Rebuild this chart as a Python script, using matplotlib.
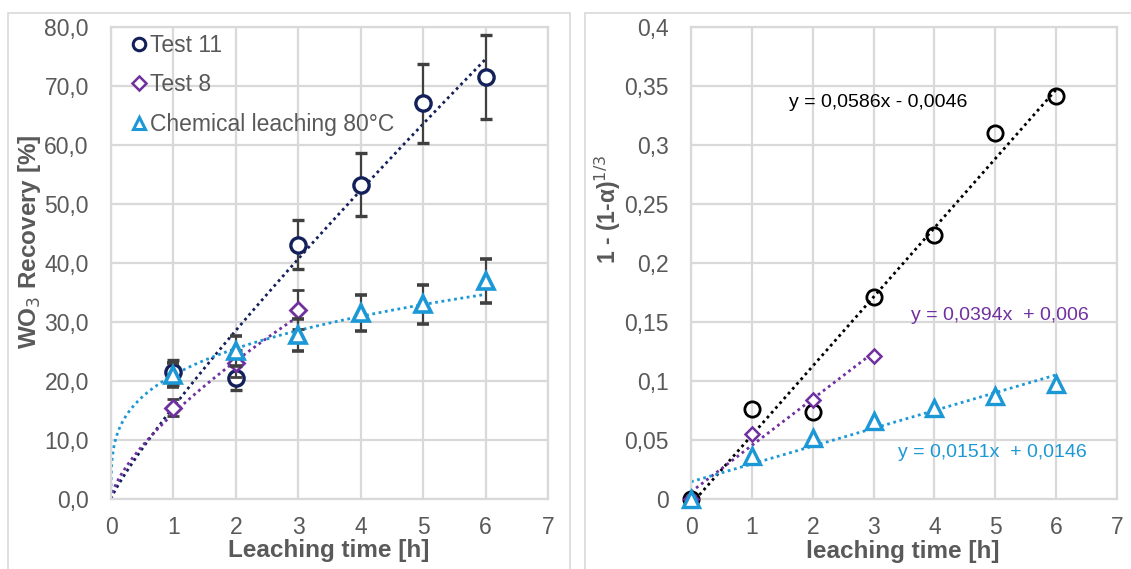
import numpy as np
import matplotlib
matplotlib.use("Agg")
import matplotlib.pyplot as plt
from matplotlib.lines import Line2D
from matplotlib.patches import Rectangle

plt.rcParams['font.family'] = ['Liberation Sans', 'DejaVu Sans']

# ---------------- data: left panel (WO3 recovery) ----------------
t11_x = [1, 2, 3, 4, 5, 6]
t11_y = [21.5, 20.5, 43.1, 53.3, 67.1, 71.5]
t11_err = [2.1, 2.0, 4.2, 5.3, 6.7, 7.1]

t8_x = [1, 2, 3]
t8_y = [15.5, 23.0, 32.1]
t8_err = [1.5, 2.3, 3.3]

chem_x = [1, 2, 3, 4, 5, 6]
chem_y = [21.0, 25.1, 27.8, 31.5, 33.0, 36.9]
chem_err = [2.1, 2.5, 2.7, 3.1, 3.3, 3.7]

# power trendlines y = a*x^b
t11_fit = (15.6, 0.873)
t8_fit = (14.5, 0.69)
chem_fit = (21.0, 0.28)

left_yticks = [0, 10, 20, 30, 40, 50, 60, 70, 80]
left_xticks = [0, 1, 2, 3, 4, 5, 6, 7]

# ---------------- data: right panel (shrinking core) ----------------
r_t11_x = [0, 1, 2, 3, 4, 5, 6]
r_t11_y = [0.0, 0.0763, 0.0735, 0.171, 0.224, 0.310, 0.3415]
r_t8_x = [0, 1, 2, 3]
r_t8_y = [0.0, 0.0548, 0.0837, 0.1215]
r_chem_x = [0, 1, 2, 3, 4, 5, 6]
r_chem_y = [0.0, 0.0363, 0.0514, 0.0662, 0.0772, 0.0877, 0.0975]

r_t11_fit = (0.0586, -0.0046)
r_t8_fit = (0.0394, 0.006)
r_chem_fit = (0.0151, 0.0146)

right_yticks = [0, 0.05, 0.1, 0.15, 0.2, 0.25, 0.3, 0.35, 0.4]
right_ytick_labels = ["0", "0,05", "0,1", "0,15", "0,2", "0,25", "0,3", "0,35", "0,4"]

# ---------------- styles ----------------
NAVY = "#14205a"
PURPLE = "#7030a0"
CYAN = "#1b98d5"
ERR = "#404040"
GRID = "#d9d9d9"
TXT = "#595959"

W, H = 1131, 569
fig = plt.figure(figsize=(W / 100, H / 100), dpi=100)

# panel frames
fig.patches.append(Rectangle((8 / W, -0.01), (570 - 8) / W, (H - 13) / H + 0.01,
                             transform=fig.transFigure, fill=False, ec=GRID, lw=1.2))
fig.patches.append(Rectangle((585 / W, -0.01), (W - 585 + 5) / W, (H - 13) / H + 0.01,
                             transform=fig.transFigure, fill=False, ec=GRID, lw=1.2))

axL = fig.add_axes([111 / W, (H - 499) / H, 437 / W, 472 / H])
axR = fig.add_axes([691 / W, (H - 499) / H, 426 / W, 472 / H])


def style(ax):
    ax.grid(True, color=GRID, lw=1.6)
    ax.set_axisbelow(True)
    for s in ax.spines.values():
        s.set_color(GRID)
        s.set_linewidth(1.6)
    ax.tick_params(length=0, labelsize=16.5, colors=TXT)


dots = (0, (1, 1.3))

# ---- left ----
style(axL)
axL.set_xlim(0, 7)
axL.set_ylim(0, 80)
axL.set_xticks(left_xticks)
axL.set_yticks(left_yticks)
axL.set_yticklabels([f"{v:.1f}".replace('.', ',') for v in left_yticks])
axL.tick_params(axis='y', pad=16)
axL.tick_params(axis='x', pad=12)

xx = np.linspace(0.0, 6, 400)
xs = np.concatenate([[0.0, 1e-4, 1e-3, 3e-3, 0.01, 0.02, 0.04], np.linspace(0.06, 6, 300)])
axL.plot(xx, t11_fit[0] * xx ** t11_fit[1], color=NAVY, lw=2.0, ls=dots, zorder=2)
x8 = np.linspace(0.0, 3, 300)
axL.plot(x8, t8_fit[0] * x8 ** t8_fit[1], color=PURPLE, lw=2.0, ls=dots, zorder=2)
axL.plot(xs, chem_fit[0] * xs ** chem_fit[1], color=CYAN, lw=2.0, ls=dots, zorder=2)

ekw = dict(ecolor=ERR, elinewidth=1.6, capsize=4.3, capthick=1.6, ls='none')
axL.errorbar(t11_x, t11_y, yerr=t11_err, marker='o', ms=11, mfc='white', mec=NAVY,
             mew=2.4, zorder=3, **ekw)
axL.errorbar(t8_x, t8_y, yerr=t8_err, marker='D', ms=8, mfc='white', mec=PURPLE,
             mew=2.0, zorder=4, **ekw)
axL.errorbar(chem_x, chem_y, yerr=chem_err, marker='^', ms=11, mfc='white', mec=CYAN,
             mew=2.6, zorder=5, **ekw)

handles = [
    Line2D([], [], marker='o', ls='none', ms=9, mfc='white', mec=NAVY, mew=2.2),
    Line2D([], [], marker='D', ls='none', ms=7, mfc='white', mec=PURPLE, mew=1.8),
    Line2D([], [], marker='^', ls='none', ms=9, mfc='white', mec=CYAN, mew=2.2),
]
leg = axL.legend(handles, ["Test 11", "Test 8", "Chemical leaching 80°C"],
                 loc='upper left', bbox_to_anchor=(0.025, 1.005), frameon=False,
                 fontsize=16.5, handlelength=0.7, handletextpad=0.12,
                 labelspacing=0.72, borderaxespad=0.0)
for t in leg.get_texts():
    t.set_color(TXT)

axL.set_xlabel("Leaching time [h]", fontsize=17.5, fontweight='bold', color=TXT)
axL.set_ylabel("WO$_3$ Recovery [%]", fontsize=17.5, fontweight='bold', color=TXT)
axL.xaxis.set_label_coords(0.497, -0.085)
axL.yaxis.set_label_coords(-0.155, 0.545)

# ---- right ----
style(axR)
axR.set_xlim(0, 7)
axR.set_ylim(0, 0.4)
axR.set_xticks(left_xticks)
axR.set_yticks(right_yticks)
axR.set_yticklabels(right_ytick_labels)
axR.tick_params(axis='y', pad=16)
axR.tick_params(axis='x', pad=12)

xr = np.linspace(0, 6, 100)
axR.plot(xr, r_t11_fit[0] * xr + r_t11_fit[1], color='black', lw=2.0, ls=dots, zorder=2)
xr3 = np.linspace(0, 3, 100)
axR.plot(xr3, r_t8_fit[0] * xr3 + r_t8_fit[1], color=PURPLE, lw=2.0, ls=dots, zorder=2)
axR.plot(xr, r_chem_fit[0] * xr + r_chem_fit[1], color=CYAN, lw=2.0, ls=dots, zorder=2)

axR.plot(r_t11_x, r_t11_y, ls='none', marker='o', ms=11, mfc='none', mec='black',
         mew=2.0, zorder=3, clip_on=False)
axR.plot(r_t8_x, r_t8_y, ls='none', marker='D', ms=7.5, mfc='white', mec=PURPLE,
         mew=1.8, zorder=4, clip_on=False)
axR.plot(r_chem_x, r_chem_y, ls='none', marker='^', ms=11, mfc='white', mec=CYAN,
         mew=2.4, zorder=5, clip_on=False)

axR.text(3.08, 0.3356, "y = 0,0586x - 0,0046", color='black', fontsize=14,
         ha='center', va='center')
axR.text(5.08, 0.1553, "y = 0,0394x  + 0,006", color=PURPLE, fontsize=14,
         ha='center', va='center')
axR.text(4.95, 0.0391, "y = 0,0151x  + 0,0146", color=CYAN, fontsize=14,
         ha='center', va='center')

axR.set_xlabel("leaching time [h]", fontsize=17.5, fontweight='bold', color=TXT)
axR.set_ylabel("1 - (1-α)$^{1/3}$", fontsize=16.5, fontweight='bold', color=TXT)
axR.xaxis.set_label_coords(0.498, -0.087)
axR.yaxis.set_label_coords(-0.16, 0.614)

fig.savefig("out.png", dpi=100)
